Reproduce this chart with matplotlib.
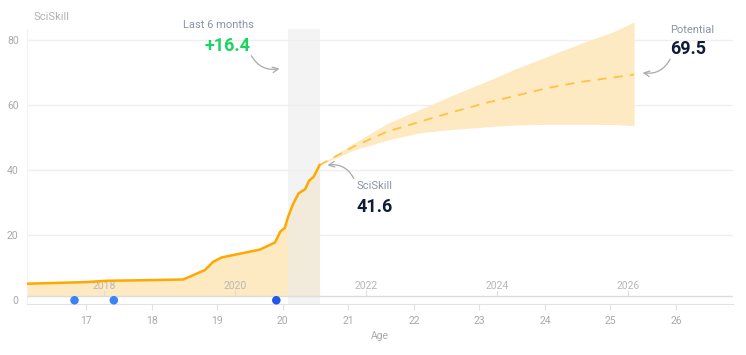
import matplotlib
matplotlib.use("Agg")
import matplotlib.pyplot as plt

plt.rcParams['font.family'] = ['Roboto', 'DejaVu Sans']

# ---- data ----
hist_age = [16.1, 17.0, 17.31, 18.0, 18.48, 18.81, 18.94, 19.07, 19.65, 19.88,
            19.96, 20.03, 20.08, 20.16, 20.24, 20.34, 20.40, 20.47, 20.56]
hist_val = [5.1, 5.6, 6.0, 6.2, 6.4, 9.3, 11.9, 13.2, 15.6, 17.8,
            21.1, 22.3, 25.7, 29.8, 32.9, 34.2, 36.8, 38.0, 41.6]

fc_age = [20.56, 21.08, 21.59, 22.10, 22.60, 23.11, 23.52, 24.03, 24.54, 25.05, 25.36]
fc_mid = [41.6, 47.3, 51.9, 55.0, 58.0, 60.8, 62.8, 65.3, 67.2, 68.6, 69.5]
fc_hi = [41.6, 48.3, 54.4, 58.8, 63.2, 67.4, 71.0, 75.0, 79.0, 82.7, 85.7]
fc_lo = [41.6, 46.2, 49.3, 51.6, 52.6, 53.4, 53.9, 54.2, 54.2, 54.1, 53.8]

event_age = [16.82, 17.42, 19.9]
event_col = ['#3b82f6', '#3b82f6', '#2357e8']

window = (20.08, 20.57)

age_ticks = [17, 18, 19, 20, 21, 22, 23, 24, 25, 26]
year_labels = ['2018', '2020', '2022', '2024', '2026']
year_age = [17.27, 19.27, 21.27, 23.27, 25.27]
y_ticks = [0, 20, 40, 60, 80]

last6 = '+16.4'
current = '41.6'
potential = '69.5'

# ---- figure ----
fig = plt.figure(figsize=(7.46, 3.55), dpi=100)
ax = fig.add_axes([27/746, 1-304/355, (733-27)/746, (304-29)/355])
ax.set_xlim(16.095, 26.87)
ax.set_ylim(-1.15, 83.5)

base = 1.3
grid_c = '#efefef'
for v in [20, 40, 60, 80]:
    ax.axhline(v, color=grid_c, lw=1, zorder=0)

# history fill & line
ax.fill_between(hist_age, base, hist_val, color='#fde9c2', lw=0, zorder=1)
ax.axvspan(window[0], window[1], ymin=0, ymax=1, color='#ececec', alpha=0.6, lw=0, zorder=2)
ax.plot(hist_age, hist_val, color='#ffa800', lw=1.8, zorder=4, solid_joinstyle='round')

# forecast
ax.fill_between(fc_age, fc_lo, fc_hi, color='#fde9c2', lw=0, zorder=1, clip_on=False)
ax.plot(fc_age, fc_mid, color='#fdc443', lw=1.3, ls=(0, (5, 4)), zorder=3)

# event strip
ax.axhline(base, color='#dcdcdc', lw=1, zorder=3)
ax.scatter(event_age, [0]*len(event_age), s=38, c=event_col, zorder=5, clip_on=False, lw=0)

# year ticks inside
for a, lab in zip(year_age, year_labels):
    ax.plot([a, a], [base, base+1.5], color='#dcdcdc', lw=0.8, zorder=3)
    ax.text(a, base+1.5, lab, ha='center', va='bottom', fontsize=7.5, color='#b8b8b8', zorder=3)

# axes styling
for s in ['top', 'right']:
    ax.spines[s].set_visible(False)
ax.spines['left'].set_color('#f2f2f2')
ax.spines['bottom'].set_color('#e2e2e2')
ax.set_xticks(age_ticks)
ax.set_yticks(y_ticks)
ax.tick_params(axis='x', colors='#e2e2e2', length=4, labelcolor='#a9a9a9', labelsize=7.5, pad=5)
ax.tick_params(axis='y', length=0, labelcolor='#a9a9a9', labelsize=7.5, pad=6)
ax.set_xlabel('Age', fontsize=7.5, color='#a9a9a9', labelpad=3)

# titles / annotations
fig.text(33/746, 1-17/355, 'SciSkill', fontsize=8, color='#b0b0b0', va='center', ha='left')

lab_c = '#8a93a6'
dark = '#0f1c36'
ax.text(19.02, 84.7, 'Last 6 months', ha='center', va='center', fontsize=8, color=lab_c, clip_on=False)
ax.text(19.15, 78.4, last6, ha='center', va='center', fontsize=13, fontweight='bold', color='#1ad462', clip_on=False)
ax.annotate('', xy=(19.99, 71.5), xytext=(19.5, 76.0),
            arrowprops=dict(arrowstyle='->', color='#a8a8a8', lw=0.9,
                            connectionstyle='arc3,rad=0.4'))

ax.text(21.13, 35.2, 'SciSkill', ha='left', va='center', fontsize=8, color=lab_c)
ax.text(21.12, 28.6, current, ha='left', va='center', fontsize=13, fontweight='bold', color=dark)
ax.annotate('', xy=(20.64, 41.4), xytext=(21.1, 36.8),
            arrowprops=dict(arrowstyle='->', color='#a8a8a8', lw=0.9,
                            connectionstyle='arc3,rad=0.4'))

ax.text(26.25, 83.2, 'Potential', ha='center', va='center', fontsize=8, color=lab_c, clip_on=False)
ax.text(26.19, 77.3, potential, ha='center', va='center', fontsize=13, fontweight='bold', color=dark)
ax.annotate('', xy=(25.45, 70.2), xytext=(25.93, 75.0),
            arrowprops=dict(arrowstyle='->', color='#a8a8a8', lw=0.9,
                            connectionstyle='arc3,rad=-0.4'))

fig.savefig('out.png', dpi=100, facecolor='white')
